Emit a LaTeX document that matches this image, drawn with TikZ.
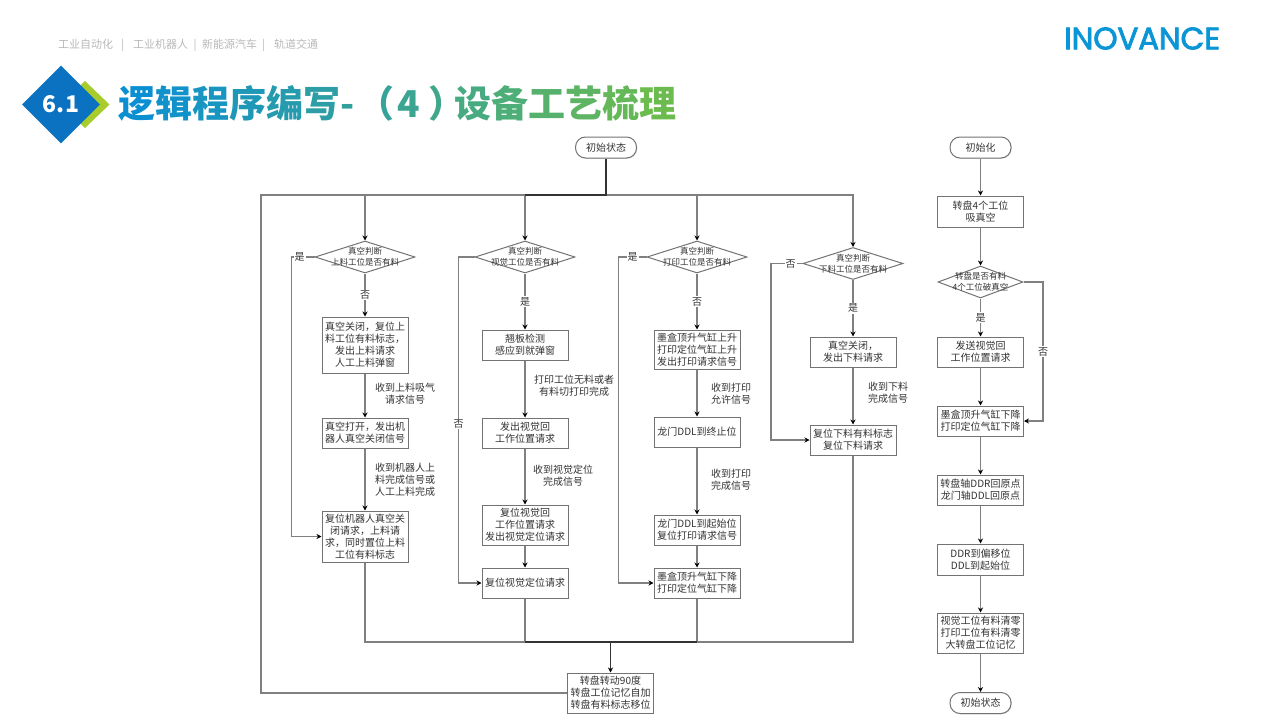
\documentclass[tikz,border=0pt]{standalone}
\usepackage{fontspec}
\setmainfont{Noto Sans CJK SC}
\newfontfamily\logofont{Poppins}
\usetikzlibrary{shapes.geometric,positioning,arrows.meta,shadows}
\definecolor{ttlblue}{HTML}{0B8FD3}
\definecolor{ttlgreen}{HTML}{6BBB4F}
\definecolor{badgeblue}{HTML}{0A72C0}
\definecolor{badgegreen}{HTML}{A8CC2C}
\definecolor{logoblue}{HTML}{0A96D6}
\newcommand{\tc}[2]{\textcolor{ttlgreen!#1!ttlblue}{#2}}

\begin{document}
\begin{tikzpicture}[x=1pt,y=-1pt]
\useasboundingbox (0,0) rectangle (1280,720);
%% Draw page header
   \node [font=\fontsize{11}{13}\selectfont,text=black!28,anchor=west,inner sep=0] (topics) at (58,45)
	{工业自动化\hspace{8pt}|\hspace{9pt}工业机器人\hspace{5.5pt}|\hspace{5.5pt}新能源汽车\hspace{5pt}|\hspace{9pt}轨道交通};
   \node [font=\logofont\fontsize{31}{31}\selectfont,text=logoblue,anchor=west,inner sep=0] (logo) at (1064,38.5) {\addfontfeature{FakeBold=2.5,LetterSpace=-0.6}INOVANCE};
   \fill [badgegreen] (85,81) -- (109.5,104.5) -- (85,128) -- (60,104.5) -- cycle;
   \node [diamond,fill=badgeblue,minimum width=78pt,minimum height=78pt,inner sep=0,text=white,
	font=\fontsize{23}{23}\selectfont\bfseries] (badge) at (61,104.5) {6.1};
   \node [font=\fontsize{37}{40}\selectfont\bfseries,anchor=west,inner sep=0] (title) at (118,103)
	{\tc{0}{逻}\tc{7}{辑}\tc{14}{程}\tc{21}{序}\tc{28}{编}\tc{35}{写}\tc{41}{-}\hspace{3pt}\tc{45}{（}\hspace{3pt}\tc{50}{4}\hspace{9pt}\tc{55}{）}\hspace{-11pt}\tc{62}{设}\tc{70}{备}\tc{78}{工}\tc{85}{艺}\tc{93}{梳}\tc{100}{理}};
%% Draw main station flow
   \begin{scope}[on grid,>={Stealth[black,length=5pt,width=5pt]},
		font=\fontsize{10}{12}\selectfont,text=black!80,
		every edge/.append style={flow},
		flow/.style={draw=black!50,line width=1.1pt},
		flowdark/.style={draw=black!80,line width=1.1pt},
		block/.style={rectangle,draw=black!55,fill=white,line width=1pt,align=center,inner sep=0,
			minimum width=86pt,minimum height=#1,drop shadow={shadow xshift=.8pt,shadow yshift=-.8pt,opacity=.25}},
		block/.default=30pt,
		state/.style={block=21pt,rounded corners=10pt,minimum width=61pt},
		decision/.style={diamond,draw=black!55,fill=white,line width=1pt,inner sep=0,
			minimum width=#1,minimum height=32pt},
		decision/.default=100pt,
		dectext/.style={align=center,inner sep=0,font=\fontsize{8.5}{11}\selectfont},
		note/.style={align=center,inner sep=0},
		yesno/.style={fill=white,inner sep=1pt}]
   \node [state] (start) at (606,147.5)		{初始状态};
   \coordinate [below=47.5pt of start] (top);
   \node [decision,label={[dectext,name=t1]center:真空判断\\上料工位是否有料}] (d1) [below=109.5pt of start,xshift=-241pt] {};
   \node [decision,label={[dectext,name=t2]center:真空判断\\视觉工位是否有料}] (d2) [right=160pt of d1] {};
   \node [decision,label={[dectext,name=t3]center:真空判断\\打印工位是否有料}] (d3) [right=172pt of d2] {};
   \node [decision,label={[dectext,name=t4]center:真空判断\\下料工位是否有料}] (d4) [right=156pt of d3,yshift=-6.5pt] {};
   % first column
   \node [block=56pt] (b11) [below=88pt of d1]		{真空关闭，复位上\\料工位有料标志，\\发出上料请求\\人工上料弹窗} edge [<-] node [yesno] (y1) {否} (d1);
   \node [block] (b12) [below=88pt of b11]		{真空打开，发出机\\器人真空关闭信号} edge [<-] (b11);
   \node [block=51pt] (b13) [below=103.5pt of b12]	{复位机器人真空关\\闭请求，上料请\\求，同时置位上料\\工位有料标志} edge [<-] (b12);
   % second column
   \node [block] (b21) [below=88pt of d2]		{翘板检测\\感应到就弹窗} edge [<-] node [yesno] (y2) {是} (d2);
   \node [block] (b22) [below=88pt of b21]		{发出视觉回\\工作位置请求} edge [<-] (b21);
   \node [block=40pt] (b23) [below=92pt of b22]		{复位视觉回\\工作位置请求\\发出视觉定位请求} edge [<-] (b22);
   \node [block] (b24) [below=58pt of b23]		{复位视觉定位请求} edge [<-] (b23);
   % third column
   \node [block=39pt] (b31) [below=92.5pt of d3]	{墨盒顶升气缸上升\\打印定位气缸上升\\发出打印请求信号} edge [<-] node [yesno] (y3) {否} (d3);
   \node [block] (b32) [below=82.5pt of b31]		{龙门DDL到终止位} edge [<-] (b31);
   \node [block] (b33) [below=98pt of b32]		{龙门DDL到起始位\\复位打印请求信号} edge [<-] (b32);
   \node [block] (b34) [below=53pt of b33]		{墨盒顶升气缸下降\\打印定位气缸下降} edge [<-] (b33);
   % fourth column
   \node [block] (b41) [below=88.5pt of d4]		{真空关闭，\\发出下料请求} edge [<-] node [yesno] (y4) {是} (d4);
   \node [block] (b42) [below=88pt of b41]		{复位下料有料标志\\复位下料请求} edge [<-] (b41);
   % turntable step
   \node [block=40pt] (turn) [below=545.5pt of start,xshift=4.5pt] {转盘转动90度\\转盘工位记忆自加\\转盘有料标志移位};
   \coordinate [above=51pt of turn] (merge);
   \coordinate [left=345pt of top] (loop);
   % notes beside the arrows
   \node [note] (n11) [below right=49pt and 40pt of b11]	{收到上料吸气\\请求信号};
   \node [note] (n12) [below right=47pt and 40pt of b12]	{收到机器人上\\料完成信号或\\人工上料完成};
   \node [note] (n21) [below right=41pt and 49pt of b21]	{打印工位无料或者\\有料切打印完成};
   \node [note] (n22) [below right=43pt and 38pt of b22]	{收到视觉定位\\完成信号};
   \node [note] (n31) [below right=44.5pt and 34pt of b31]	{收到打印\\允许信号};
   \node [note] (n32) [below right=48pt and 34pt of b32]	{收到打印\\完成信号};
   \node [note] (n41) [below right=41pt and 35pt of b41]	{收到下料\\完成信号};
   % bus lines
   \foreach \dec in {d1,d2,d3,d4}
	\draw [flow,->] (top) -| (\dec.north);
   \foreach \last in {b13,b24,b34,b42}
	\draw [flow] (\last.south) |- (merge);
   \draw [flow] (turn.west) -| (loop) -- (top);
   \draw [flowdark] (start) -- (top) -- (top -| d2);
   \draw [flowdark] (merge -| b24) -- (merge -| b34);
   \draw [flowdark,->] (merge) -- (turn.north);
   % branches that skip a column
   \draw [flow,->] (d1.west) -- node [yesno,pos=.65] (s1) {是} ++(-23,0) |- (b13.west);
   \draw [flow,->] (d2.west) -- ++(-16,0) |- node [yesno,pos=.256] (s2) {否} (b24.west);
   \draw [flow,->] (d3.west) -- node [yesno,pos=.5] (s3) {是} ++(-28,0) |- (b34.west);
   \draw [flow,->] (d4.west) -- node [yesno,pos=.38] (s4) {否} ++(-31.5,0) |- (b42.west);
%% Draw initialisation flow
   \node [state] (init) at (980.5,147.5)		{初始化};
   \node [block=31pt] (i1) [below=64pt of init]		{转盘4个工位\\吸真空} edge [<-] (init);
   \node [decision=85pt,label={[dectext,name=t5]center:转盘是否有料\\4个工位破真空}] (d5) [below=70.5pt of i1] {} edge [<-] (i1);
   \node [block] (i2) [below=70pt of d5]		{发送视觉回\\工作位置请求} edge [<-] node [yesno] (y5) {是} (d5);
   \node [block] (i3) [below=69pt of i2]		{墨盒顶升气缸下降\\打印定位气缸下降} edge [<-] (i2);
   \node [block] (i4) [below=69pt of i3]		{转盘轴DDR回原点\\龙门轴DDL回原点} edge [<-] (i3);
   \node [block=31pt] (i5) [below=69.5pt of i4]		{DDR到偏移位\\DDL到起始位} edge [<-] (i4);
   \node [block=40pt] (i6) [below=73.5pt of i5]		{视觉工位有料清零\\打印工位有料清零\\大转盘工位记忆} edge [<-] (i5);
   \node [state] (stop) [below=70pt of i6]		{初始状态} edge [<-] (i6);
   \coordinate [right=62.5pt of d5] (side);
   \draw [flow,->] (d5.east) -- (side) |- node [yesno,pos=.25] (s5) {否} (i3.east);
   \end{scope}
\end{tikzpicture}
\end{document}
